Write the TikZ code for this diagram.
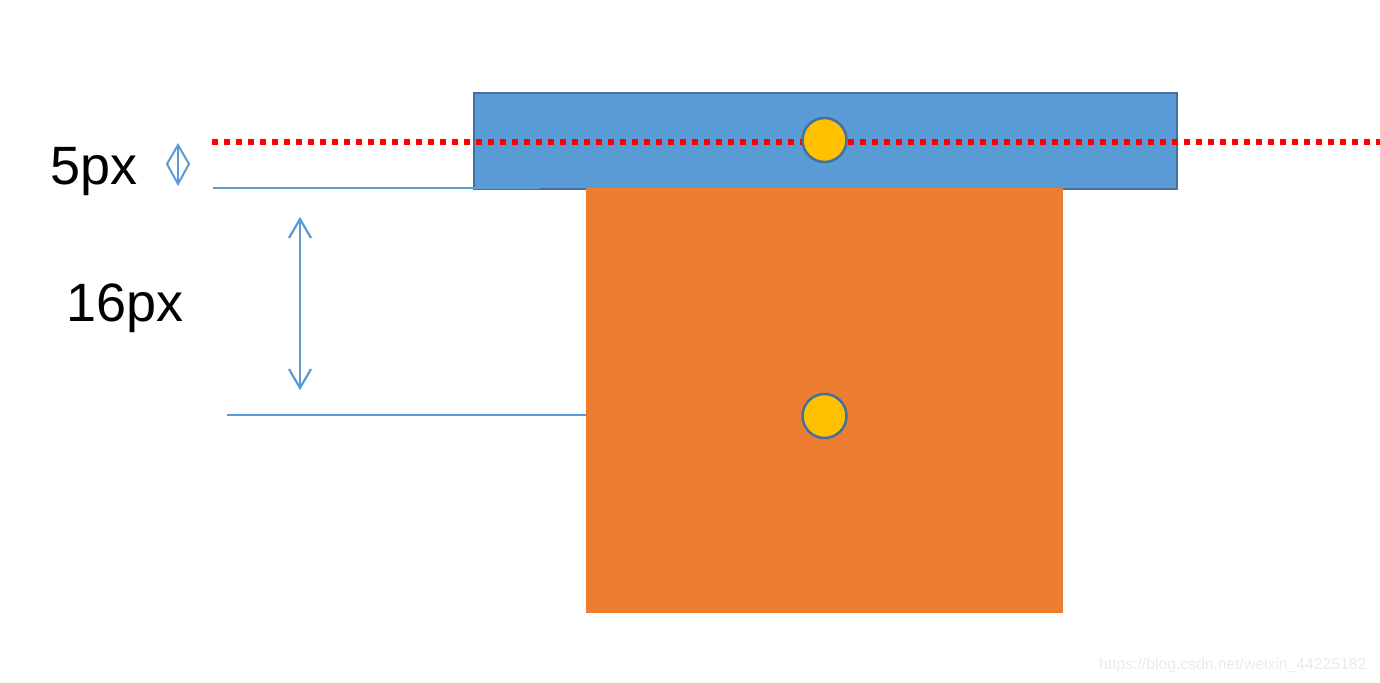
\documentclass[tikz,border=0pt]{standalone}
\usepackage{fontspec}
\setmainfont{Liberation Sans}
\definecolor{boxblue}{HTML}{5B9BD5}
\definecolor{edgeblue}{HTML}{41719C}
\definecolor{boxorange}{HTML}{ED7D31}
\definecolor{dotyellow}{HTML}{FFC000}
\definecolor{markgray}{HTML}{EAEAEA}
\tikzset{
  dimline/.style={draw=boxblue, line width=2.2pt},
  centerdot/.style={circle, draw=edgeblue, fill=dotyellow, line width=2.5pt, minimum size=44pt, inner sep=0pt},
  redaxis/.style={draw=red, line width=5.5pt, dash pattern=on 6pt off 6pt},
  biglabel/.style={inner sep=0pt, anchor=base west, font=\fontsize{54}{54}\selectfont},
}
\begin{document}
\begin{tikzpicture}[x=1pt,y=-1pt]
\useasboundingbox (0,0) rectangle (1380,682);
% blue bar
\node[draw=edgeblue, fill=boxblue, line width=2.2pt, minimum width=703pt, minimum height=96pt, inner sep=0pt, anchor=north west] (bar) at (473,92) {};
% red dotted axis
\coordinate (axL) at (212,142);
\coordinate (axR) at (1380,142);
\draw[redaxis] (axL) -- (axR);
% orange block
\node[fill=boxorange, minimum width=477pt, minimum height=425pt, inner sep=0pt, anchor=north west] (block) at (586,188) {};
% centre dots
\node[centerdot] (c1) at (824.5,140) {};
\node[centerdot] (c2) at (824.5,416) {};
% dimension lines
\coordinate (t1) at (213,188);
\coordinate (t2) at (540,188);
\draw[dimline] (t1) -- (t2);
\coordinate (b1) at (227,415);
\draw[dimline] (b1) -- (block.west |- b1);
% small 5px marker
\coordinate (s1) at (178,145);
\coordinate (s2) at (178,184);
\draw[draw=boxblue, line width=2pt, line join=miter] (s1) -- (167,164) -- (s2) -- (189,164) -- cycle;
\draw[draw=boxblue, line width=2pt] (s1) -- (s2);
% big 16px arrow
\coordinate (a1) at (300,219);
\coordinate (a2) at (300,388);
\draw[dimline] (a1) -- (a2);
\draw[dimline] (289,238) -- (a1) -- (311,238);
\draw[dimline] (289,369) -- (a2) -- (311,369);
% labels
\node[biglabel] (l5) at (50.5,184) {5px};
\node[biglabel] (l16) at (66,321) {16px};
% watermark
\node[inner sep=0pt, anchor=base west, font=\fontsize{15.7}{15.7}\selectfont, text=markgray] (wm) at (1099,669) {https://blog.csdn.net/weixin\_44225182};
\end{tikzpicture}
\end{document}
